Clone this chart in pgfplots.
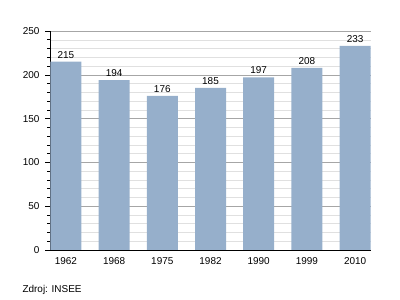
\documentclass[border=0pt]{standalone}
\usepackage{pgfplots}
\pgfplotsset{compat=1.18}
\usepackage{fontspec}
\setmainfont{Liberation Sans}
\definecolor{barc}{RGB}{150,175,203}
\begin{document}
\begin{tikzpicture}[x=1bp,y=1bp]
\useasboundingbox (0,0) rectangle (400,300);
\begin{axis}[
  at={(50bp,50bp)}, anchor=south west,
  scale only axis, width=321bp, height=219bp,
  xmin=-0.33, xmax=6.33, ymin=0, ymax=250,
  xtick={0,1,2,3,4,5,6},
  xticklabels={1962,1968,1975,1982,1990,1999,2010},
  x tick style={draw=none},
  ytick={0,50,100,150,200,250},
  minor ytick={10,20,30,40,60,70,80,90,110,120,130,140,160,170,180,190,210,220,230,240},
  ymajorgrids, yminorgrids,
  major grid style={draw=black!35, line width=0.6pt},
  minor grid style={draw=black!12, line width=0.5pt},
  axis x line*=bottom, axis y line*=left,
  axis line style={black, line width=0.8pt, -},
  y tick style={black, line width=0.6pt},
  tick align=outside,
  major tick length=5bp, minor tick length=3bp,
  tick label style={font=\fontsize{10}{12}\selectfont},
  /pgf/number format/assume math mode=true,
  xticklabel style={yshift=1bp},
  yticklabel style={xshift=-2bp},
  ybar, bar width=31bp,
  nodes near coords,
  nodes near coords style={font=\fontsize{10}{12}\selectfont, black, yshift=0bp},
  clip=false,
]
\addplot[fill=barc, draw=none] coordinates {(0,215) (1,194) (2,176) (3,185) (4,197) (5,208) (6,233)};
\end{axis}
\node[anchor=west, font=\fontsize{10}{12}\selectfont] at (19,10) {Zdroj: INSEE};
\end{tikzpicture}
\end{document}
